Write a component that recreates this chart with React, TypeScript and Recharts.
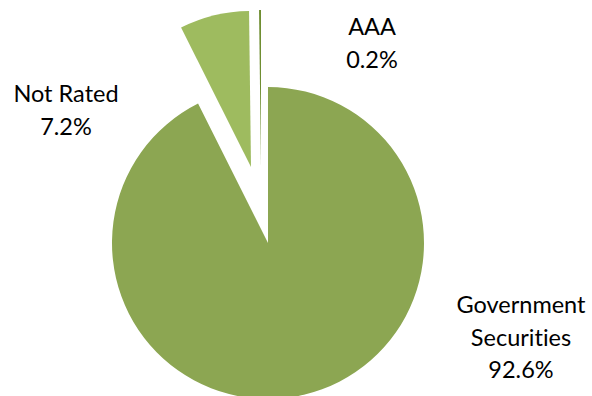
import React from "react";
import { PieChart, Pie, Cell } from "recharts";

const categories = ["Government Securities", "Not Rated", "AAA"];
const shares = [92.6, 7.2, 0.2];
const labelLines = [["Government", "Securities"], ["Not Rated"], ["AAA"]];

const data = categories.map((name, i) => ({ name, value: shares[i] }));

const COLORS = ["#8CA652", "#9EBB5F", "#6F8E32"];
// explode centres for each slice (layout)
const CENTRES = [
  { cx: 268, cy: 243 },
  { cx: 251, cy: 167 },
  { cx: 261, cy: 166 },
];
// label anchor (centre x, first baseline y) per slice (layout)
const LABEL_POS = [
  { x: 521, y: 313 },
  { x: 66, y: 102 },
  { x: 372, y: 35 },
];
const LINE_H = 32.5;
const FONT = "Lato, 'Open Sans', sans-serif";

function makeLabel(visible: number) {
  return (props: any) => {
    const { index } = props;
    if (index !== visible) return null;
    const pos = LABEL_POS[index];
    const lines = [...labelLines[index], `${shares[index].toFixed(1)}%`];
    return (
      <text
        key={`lbl-${index}`}
        x={pos.x}
        y={pos.y}
        textAnchor="middle"
        fontFamily={FONT}
        fontSize={23.5}
        fill="#000"
        style={{ fontVariantLigatures: "none" }}
      >
        {lines.map((l, k) => (
          <tspan key={k} x={pos.x} dy={k === 0 ? 0 : LINE_H}>
            {l}
          </tspan>
        ))}
      </text>
    );
  };
}

export default function App() {
  return (
    <div style={{ position: "absolute", left: 0, top: 0, width: 592, height: 396, background: "#fff" }}>
      <PieChart width={592} height={396} margin={{ top: 0, right: 0, bottom: 0, left: 0 }}>
        {CENTRES.map((c, vi) => (
          <Pie
            key={vi}
            data={data}
            dataKey="value"
            nameKey="name"
            cx={c.cx}
            cy={c.cy}
            outerRadius={156}
            innerRadius={0}
            startAngle={90}
            endAngle={-270}
            stroke="none"
            isAnimationActive={false}
            labelLine={false}
            label={makeLabel(vi)}
          >
            {data.map((d, i) => (
              <Cell key={d.name} fill={i === vi ? COLORS[i] : "transparent"} stroke="none" />
            ))}
          </Pie>
        ))}
      </PieChart>
    </div>
  );
}
